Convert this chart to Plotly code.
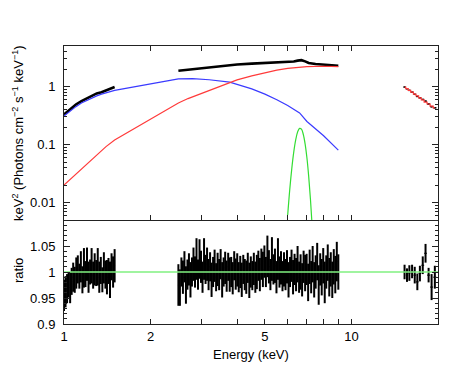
import numpy as np
import plotly.graph_objects as go

# ---------------- data ----------------
# channel ranges (keV) of the two low-energy data groups
A_lo, A_hi = 1.0, 1.5
B_lo, B_hi = 2.5, 9.0

A_ratio = [0.955, 0.962, 0.968, 0.975, 0.97, 0.982, 0.99, 0.985, 0.998, 1.005,
           0.992, 1.01, 0.985, 1.008, 0.996, 1.015, 0.99, 1.0, 1.012, 0.994,
           1.005, 0.998, 1.01, 0.99, 1.003, 0.985, 1.008, 0.995, 0.99, 1.002,
           0.985, 1.01, 1.0, 1.012]
A_err = [0.03, 0.03, 0.028, 0.024, 0.03, 0.026, 0.028, 0.025, 0.03, 0.027,
         0.024, 0.03, 0.026, 0.038, 0.025, 0.032, 0.03, 0.024, 0.034, 0.026,
         0.031, 0.025, 0.036, 0.03, 0.026, 0.024, 0.03, 0.027, 0.033, 0.025,
         0.035, 0.026, 0.03, 0.032]

B_ratio = [0.975, 0.97, 1.0, 0.99, 1.01, 0.975, 0.995, 1.005, 0.985, 1.0,
           1.015, 1.0, 1.025, 0.995, 1.025, 1.01, 0.99, 1.025, 1.005, 1.015,
           0.995, 1.01, 0.985, 1.0, 1.012, 0.99, 1.005, 0.995, 1.015, 0.985,
           1.0, 1.008, 0.992, 1.01, 0.995, 1.0, 0.988, 1.012, 0.996, 1.004,
           0.99, 1.0, 0.985, 1.005, 0.995, 0.99, 1.008, 0.984, 1.0, 0.993,
           1.006, 0.99, 1.0, 1.012, 0.995, 1.015, 1.005, 1.02, 1.0, 1.03,
           1.01, 0.995, 1.025, 1.005, 1.012, 0.99, 1.025, 1.0, 1.008, 0.992,
           1.005, 0.995, 1.01, 0.985, 1.0, 1.012, 0.99, 1.005, 0.995, 1.015,
           0.99, 1.0, 0.985, 1.01, 0.998, 1.005, 0.98, 1.01, 0.99, 1.015,
           0.985, 1.0, 1.02, 0.975, 1.005, 0.99, 1.012, 0.98, 1.0, 1.018,
           0.99, 1.005, 0.985, 1.01, 0.995, 1.02, 1.0]
B_err = [0.04, 0.035, 0.028, 0.032, 0.03, 0.036, 0.029, 0.031, 0.034, 0.028,
         0.032, 0.03, 0.04, 0.029, 0.038, 0.031, 0.03, 0.04, 0.028, 0.032,
         0.03, 0.028, 0.033, 0.029, 0.031, 0.027, 0.032, 0.03, 0.029, 0.034,
         0.028, 0.031, 0.03, 0.027, 0.033, 0.029, 0.031, 0.028, 0.03, 0.032,
         0.029, 0.031, 0.033, 0.028, 0.03, 0.032, 0.029, 0.034, 0.03, 0.028,
         0.031, 0.03, 0.033, 0.029, 0.032, 0.03, 0.034, 0.031, 0.029, 0.04,
         0.032, 0.03, 0.042, 0.029, 0.033, 0.031, 0.04, 0.03, 0.032, 0.029,
         0.033, 0.03, 0.032, 0.034, 0.029, 0.031, 0.033, 0.03, 0.032, 0.035,
         0.03, 0.034, 0.032, 0.031, 0.035, 0.03, 0.036, 0.033, 0.031, 0.035,
         0.034, 0.032, 0.036, 0.038, 0.031, 0.035, 0.034, 0.04, 0.032, 0.035,
         0.037, 0.033, 0.035, 0.034, 0.036, 0.038, 0.034]

# high-energy group
H_E = [15.3, 15.6, 15.9, 16.25, 16.6, 16.95, 17.3, 17.7, 18.1, 18.55, 19.0, 19.5]
H_dE = [0.15, 0.15, 0.15, 0.18, 0.17, 0.18, 0.18, 0.2, 0.2, 0.23, 0.23, 0.25]
H_ratio = [1.0, 0.994, 0.998, 1.001, 0.994, 0.981, 0.997, 1.013, 1.036, 0.994, 0.971, 0.99]
H_err = [0.014, 0.013, 0.015, 0.013, 0.016, 0.016, 0.015, 0.017, 0.018, 0.014, 0.025, 0.022]
H_flux = [0.98, 0.915, 0.86, 0.80, 0.735, 0.675, 0.64, 0.6, 0.56, 0.5, 0.45, 0.43]
H_err_flux = [0.012, 0.011, 0.012, 0.011, 0.012, 0.011, 0.011, 0.011, 0.011, 0.01, 0.012, 0.011]
H_model = [0.98, 0.92, 0.86, 0.80, 0.74, 0.69, 0.64, 0.59, 0.54, 0.50, 0.46, 0.43]

# unfolded data (top panel)
DA_E = [1.0, 1.05, 1.1, 1.15, 1.2, 1.25, 1.3, 1.35, 1.4, 1.45, 1.5]
DA_F = [0.33, 0.41, 0.49, 0.56, 0.63, 0.70, 0.76, 0.80, 0.86, 0.92, 0.98]
DB_E = [2.5, 2.75, 3.0, 3.25, 3.5, 3.75, 4.0, 4.5, 5.0, 5.5, 6.0, 6.3, 6.5, 6.7, 6.9, 7.1, 7.5, 8.0, 8.5, 9.0]
DB_F = [1.87, 1.97, 2.08, 2.18, 2.27, 2.33, 2.40, 2.48, 2.55, 2.60, 2.63, 2.70, 2.80, 2.85, 2.72, 2.55, 2.45, 2.38, 2.33, 2.28]

# model components (top panel)
blue_E = [1.0, 1.05, 1.1, 1.15, 1.2, 1.25, 1.3, 1.35, 1.4, 1.45, 1.5,
          2.5, 2.8, 3.2, 3.77, 4.5, 5.0, 5.5, 6.0, 6.6, 7.0, 8.0, 9.0]
blue_F = [0.31, 0.38, 0.45, 0.52, 0.58, 0.64, 0.69, 0.74, 0.78, 0.82, 0.86,
          1.36, 1.37, 1.31, 1.19, 0.91, 0.74, 0.59, 0.47, 0.35, 0.25, 0.142, 0.08]
red_E = [1.0, 1.1, 1.2, 1.3, 1.4, 1.5, 2.5, 2.7, 3.0, 3.5, 3.77, 4.0, 4.5, 5.0,
         5.5, 6.0, 6.5, 7.0, 8.0, 9.0]
red_F = [0.020, 0.031, 0.046, 0.068, 0.092, 0.12, 0.52, 0.62, 0.76, 1.03, 1.19, 1.3,
         1.53, 1.75, 1.92, 2.05, 2.14, 2.2, 2.24, 2.2]
gau_E = [6.0, 6.1, 6.2, 6.3, 6.4, 6.5, 6.6, 6.7, 6.8, 6.9, 7.0, 7.1, 7.2, 7.3]
gau_F = [0.0061, 0.0167, 0.0385, 0.0746, 0.121, 0.166, 0.19, 0.184, 0.149, 0.102,
         0.0585, 0.028, 0.0114, 0.0039]

ref_E = [1.0, 20.0]
ref_R = [1.0, 1.0]

# ---------------- figure ----------------
EA = np.geomspace(A_lo, A_hi, len(A_ratio))
EB = np.geomspace(B_lo, B_hi, len(B_ratio))

fig = go.Figure()
FONT = "Liberation Sans, Arial, Helvetica, sans-serif"
BLUE = "#3a3aff"
RED = "#ff3a3a"
GREEN = "#33dd33"
LGREEN = "#80f080"

# top panel data
for ex, fy in [(DA_E, DA_F), (DB_E, DB_F)]:
    fig.add_trace(go.Scatter(x=ex, y=fy, mode="lines", line=dict(color="black", width=2.6),
                             xaxis="x", yaxis="y", showlegend=False, hoverinfo="skip"))
fig.add_trace(go.Scatter(x=H_E, y=H_flux, mode="markers", marker=dict(size=1, color="black"),
                         error_x=dict(type="data", array=H_dE, color="black", thickness=1.5, width=0),
                         error_y=dict(type="data", array=H_err_flux, color="black", thickness=1, width=0),
                         xaxis="x", yaxis="y", showlegend=False, hoverinfo="skip"))
# models
fig.add_trace(go.Scatter(x=blue_E, y=blue_F, mode="lines", line=dict(color=BLUE, width=1.2),
                         xaxis="x", yaxis="y", showlegend=False, hoverinfo="skip"))
fig.add_trace(go.Scatter(x=red_E, y=red_F, mode="lines", line=dict(color=RED, width=1.2),
                         xaxis="x", yaxis="y", showlegend=False, hoverinfo="skip"))
fig.add_trace(go.Scatter(x=gau_E, y=gau_F, mode="lines", line=dict(color=GREEN, width=1.2, shape="spline"),
                         xaxis="x", yaxis="y", showlegend=False, hoverinfo="skip"))
fig.add_trace(go.Scatter(x=H_E, y=H_model, mode="lines", line=dict(color=RED, width=1.2, shape="hvh"),
                         xaxis="x", yaxis="y", showlegend=False, hoverinfo="skip"))

# ratio panel
for ex, r, e in [(EA, A_ratio, A_err), (EB, B_ratio, B_err), (H_E, H_ratio, H_err)]:
    fig.add_trace(go.Scatter(x=ex, y=r, mode="markers", marker=dict(size=1, color="black"),
                             error_y=dict(type="data", array=e, color="black", thickness=2, width=0),
                             xaxis="x2", yaxis="y2", showlegend=False, hoverinfo="skip"))
fig.add_trace(go.Scatter(x=H_E, y=H_ratio, mode="markers", marker=dict(size=1, color="black"),
                         error_x=dict(type="data", array=H_dE, color="black", thickness=1, width=0),
                         xaxis="x2", yaxis="y2", showlegend=False, hoverinfo="skip"))
fig.add_trace(go.Scatter(x=ref_E, y=ref_R, mode="lines", line=dict(color=LGREEN, width=1.5),
                         xaxis="x2", yaxis="y2", showlegend=False, hoverinfo="skip"))

# page is offset by the 8px body margin; layout in figure pixels
OFF = 8
L, R, T, B = 64 - OFF, 463 - (438 - OFF), 46 - OFF, 371 - (324 - OFF)
PW, PH = 463 - L - R, 371 - T - B
split = 104 / PH

axis_common = dict(showline=True, linecolor="#222", linewidth=1,
                   ticks="inside", tickcolor="#222", showgrid=False, zeroline=False,
                   tickfont=dict(family=FONT, size=13, color="black"))

xt_vals = [1, 2, 3, 4, 5, 6, 7, 8, 9, 10, 20]
xt_text = ["1", "2", "", "", "5", "", "", "", "", "10", ""]

y_minor = [0.005, 0.006, 0.007, 0.008, 0.009, 0.02, 0.03, 0.04, 0.05, 0.06, 0.07, 0.08, 0.09,
           0.2, 0.3, 0.4, 0.5, 0.6, 0.7, 0.8, 0.9, 2, 3, 4, 5]


def px_x(p):
    return (p - 64) / PW


def px_y(p):
    return (324 - p) / PH


fig.update_layout(
    width=463, height=371,
    margin=dict(l=L, r=R, t=T, b=B),
    paper_bgcolor="white", plot_bgcolor="white",
    xaxis=dict(type="log", range=[0, np.log10(20)], domain=[0, 1], anchor="y", mirror="ticks",
               tickvals=xt_vals, ticktext=xt_text, showticklabels=False, ticklen=5, **axis_common),
    xaxis2=dict(type="log", range=[0, np.log10(20)], domain=[0, 1], anchor="y2", matches="x",
                mirror=False, tickvals=xt_vals, ticktext=xt_text, ticklen=5, ticklabelstandoff=0,
                **axis_common),
    yaxis=dict(type="log", range=[np.log10(0.005), np.log10(5)], domain=[split, 1], anchor="x",
               mirror="ticks", tickvals=[0.01, 0.1, 1], ticktext=["0.01", "0.1", "1"], ticklen=6,
               ticklabelstandoff=5,
               minor=dict(tickvals=y_minor, ticks="inside", ticklen=3, tickcolor="#222"),
               **axis_common),
    yaxis2=dict(range=[0.9, 1.1], domain=[0, split], anchor="x2", mirror="ticks",
                tickvals=[0.9, 0.95, 1.0, 1.05, 1.1], ticktext=["0.9", "0.95", "1", "1.05", ""],
                ticklen=6, ticklabelstandoff=5,
                minor=dict(dtick=0.01, ticks="inside", ticklen=3, tickcolor="#222"),
                **axis_common),
    annotations=[
        dict(text="Energy (keV)", x=0.5, y=px_y(354), xref="paper", yref="paper",
             showarrow=False, xanchor="center", yanchor="middle",
             font=dict(family=FONT, size=13, color="black")),
        dict(text="keV<sup>2</sup> (Photons cm<sup>−2</sup> s<sup>−1</sup> keV<sup>−1</sup>)",
             x=px_x(18), y=px_y(133), xref="paper", yref="paper",
             showarrow=False, xanchor="center", yanchor="middle", textangle=-90,
             font=dict(family=FONT, size=13, color="black")),
        dict(text="ratio", x=px_x(18), y=px_y(271), xref="paper", yref="paper",
             showarrow=False, xanchor="center", yanchor="middle", textangle=-90,
             font=dict(family=FONT, size=13, color="black")),
    ],
)

fig.write_html("out.html")
